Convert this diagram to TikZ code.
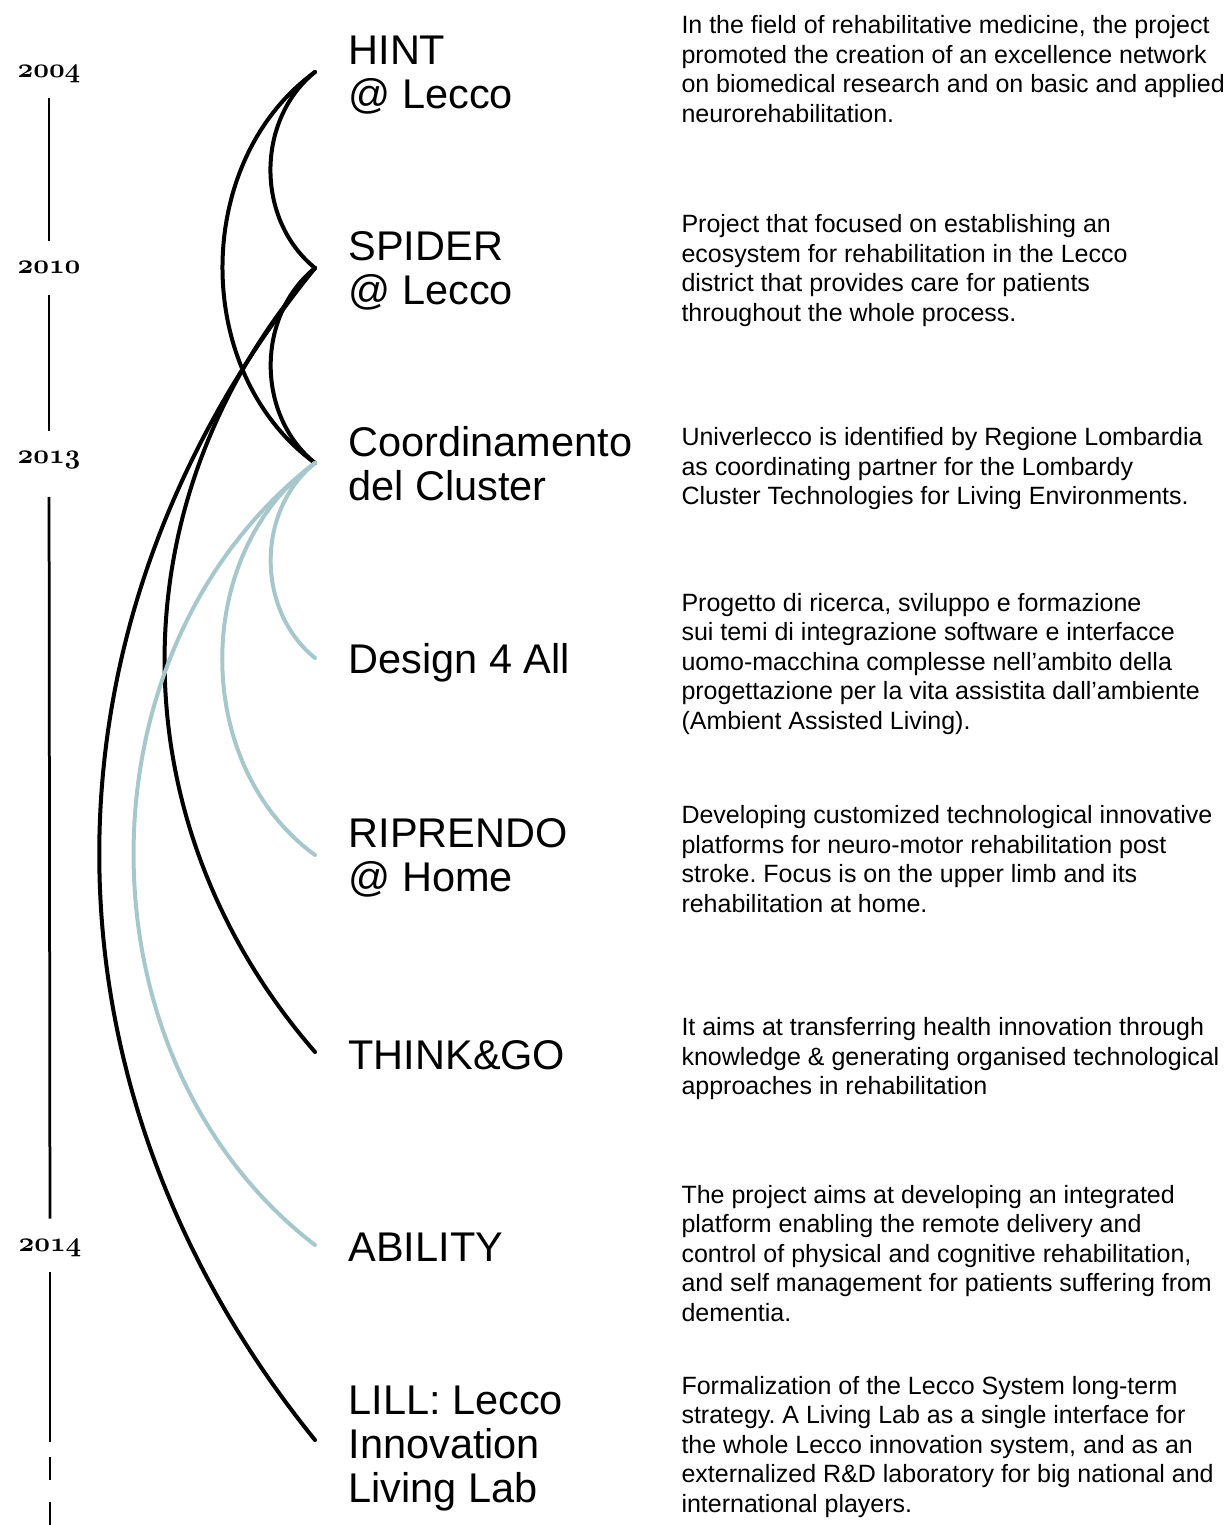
\documentclass[tikz,border=0pt]{standalone}
\usepackage{fontspec}
\setmainfont{Liberation Sans}
\usetikzlibrary{positioning}

\definecolor{clusterblue}{HTML}{A6C8CC}

\tikzset{
  year/.style={font=\fontsize{11.4}{11.4}\usefont{OML}{cmm}{b}{it}, inner xsep=0pt,
    inner ysep=8pt, text height=4.8pt, text depth=0pt},
  timeline/.style={line width=1.1pt, black},
  blackarc/.style={line width=1.6pt, black, line cap=round},
  bluearc/.style={line width=1.6pt, clusterblue, line cap=round},
  project/.style={font=\fontsize{16.6}{17.6}\selectfont, align=left, inner sep=0pt,
    anchor=west, text depth=0pt},
  desc/.style={font=\fontsize{10}{11.8}\selectfont, align=left, inner sep=0pt,
    anchor=west, text depth=0pt}
}

\begin{document}
\begin{tikzpicture}[x=0.4pt, y=-0.4pt]
  \useasboundingbox (0,0) rectangle (1225,1525);

  % Years
  \node[year] (y2004) at (49,72) {2004};
  \node[year] (y2010) at (49,268) {2010};
  \node[year, text depth=5pt] (y2013) at (49,464) {2013};
  \node[year] (y2014) at (50,1245) {2014};
  \coordinate (tlend) at (50,1442);
  \coordinate (tail) at (50,1457);
  \coordinate (tailend) at (50,1525);

  % Timeline
  \draw[timeline] (y2004) -- (y2010);
  \draw[timeline] (y2010) -- (y2013);
  \draw[timeline] (y2013) -- (y2014);
  \draw[timeline] (y2014) -- (tlend);
  \draw[timeline, dash pattern=on 9.2pt off 8.8pt] (tail) -- (tailend);

  % Project points
  \foreach \name/\y in {p1/72, p2/268, p3/463, p4/658, p5/855, p6/1052, p7/1245, p8/1440} {
    \coordinate (\name) at (315,\y);
  }

  % Links
  \draw[blackarc] (p1) to[bend right=51] (p2);
  \draw[blackarc] (p1) to[bend right=54] (p3);
  \draw[blackarc] (p2) to[bend right=51] (p3);
  \draw[blackarc] (p2) to[bend right=41] (p6);
  \draw[blackarc] (p2) to[bend right=39] (p8);
  \draw[bluearc] (p3) to[bend right=51] (p4);
  \draw[bluearc] (p3) to[bend right=54] (p5);
  \draw[bluearc] (p3) to[bend right=52.5] (p7);

  % Project names
  \node[project, right=13.2pt of p1] (hint) {HINT\\@ Lecco};
  \node[project, right=13.2pt of p2] (spider) {SPIDER\\@ Lecco};
  \node[project, right=13.2pt of p3] (cluster) {Coordinamento\\del Cluster};
  \node[project, right=13.2pt of p4] (design) {Design 4 All};
  \node[project, right=13.2pt of p5] (riprendo) {RIPRENDO\\@ Home};
  \node[project, right=13.2pt of p6, yshift=-1pt] (think) {THINK\&GO};
  \node[project, right=13.2pt of p7, yshift=-1pt] (ability) {ABILITY};
  \node[project, right=13.2pt of p8, yshift=-1.6pt] (lill) {LILL: Lecco\\Innovation\\Living Lab};

  % Descriptions
  \node[desc, right=146.4pt of p1, yshift=1.2pt] (hintdesc) {In the field of rehabilitative medicine, the project\\promoted the creation of an excellence network\\on biomedical research and on basic and applied\\neurorehabilitation.};
  \node[desc, right=146.4pt of p2] (spiderdesc) {Project that focused on establishing an\\ecosystem for rehabilitation in the Lecco\\district that provides care for patients\\throughout the whole process.};
  \node[desc, right=146.4pt of p3, yshift=-1.2pt] (clusterdesc) {Univerlecco is identified by Regione Lombardia\\as coordinating partner for the Lombardy\\Cluster Technologies for Living Environments.};
  \node[desc, right=146.4pt of p4, yshift=-1.2pt] (designdesc) {Progetto di ricerca, sviluppo e formazione\\sui temi di integrazione software e interfacce\\uomo-macchina complesse nell’ambito della\\progettazione per la vita assistita dall’ambiente\\(Ambient Assisted Living).};
  \node[desc, right=146.4pt of p5, yshift=-1.6pt] (riprendodesc) {Developing customized technological innovative\\platforms for neuro-motor rehabilitation post\\stroke.\ Focus is on the upper limb and its\\rehabilitation at home.};
  \node[desc, right=146.4pt of p6, yshift=-1.6pt] (thinkdesc) {It aims at transferring health innovation through\\knowledge \& generating organised technological\\approaches in rehabilitation};
  \node[desc, right=146.4pt of p7, yshift=-3.2pt] (abilitydesc) {The project aims at developing an integrated\\platform enabling the remote delivery and\\control of physical and cognitive rehabilitation,\\and self management for patients suffering from\\dementia.};
  \node[desc, right=146.4pt of p8, yshift=-1.6pt] (lilldesc) {Formalization of the Lecco System long-term\\strategy.\ A Living Lab as a single interface for\\the whole Lecco innovation system, and as an\\externalized R\&D laboratory for big national and\\international players.};
\end{tikzpicture}
\end{document}
